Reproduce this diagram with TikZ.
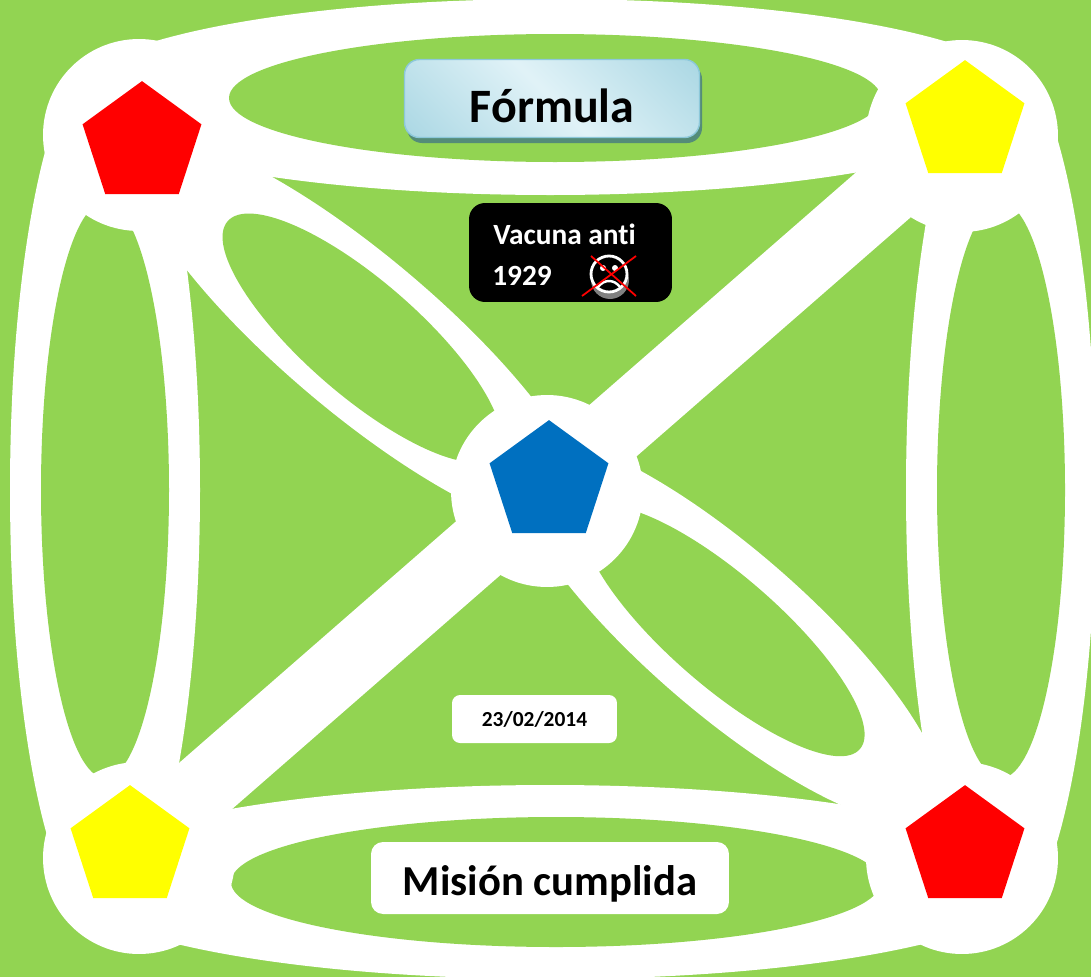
\documentclass[tikz,border=0pt]{standalone}
\usepackage{fontspec}
\setmainfont[RawFeature={-liga}]{Carlito}
\usepackage{tikz}
\usetikzlibrary{shapes.geometric}
\definecolor{fondo}{RGB}{146,212,82}
\definecolor{azulcentro}{RGB}{0,112,192}
\definecolor{rojo}{RGB}{255,0,0}
\definecolor{amarillo}{RGB}{255,255,0}
\pgfdeclarehorizontalshading{formulashade}{100bp}{rgb(0bp)=(0.58,0.80,0.86);rgb(50bp)=(0.88,0.95,0.97);rgb(100bp)=(0.58,0.80,0.86)}
\tikzset{
    pentagono/.style={regular polygon, regular polygon sides=5, minimum size=2.5cm, inner sep=0pt},
    nudo/.style={circle, fill=white, minimum size=3.84cm, inner sep=0pt},
    caja/.style={rounded corners=0.24cm, fill=white, inner sep=0pt, text=black, font={\bfseries}}
}

\begin{document}
\begin{tikzpicture}[x=0.02cm, y=-0.02cm]
        \clip (0, 0) rectangle (1091, 977);
        \fill[fondo] (0, 0) rectangle (1091, 977);

        % anillos exteriores
        \fill[white] (550, 97) ellipse [x radius=480, y radius=98];
        \fill[white] (550, 882) ellipse [x radius=485, y radius=97];
        \fill[white] (105, 490) ellipse [x radius=95, y radius=436];
        \fill[white] (1001, 490) ellipse [x radius=95, y radius=436];
        \fill[white] (359.5, 334) ellipse [x radius=290, y radius=78, rotate=-40.2];
        \fill[white] (725, 630) ellipse [x radius=280, y radius=81, rotate=-41];

        % banda diagonal
        \coordinate (bandaA) at (140, 797);
        \coordinate (bandaB) at (890, 142.7);
        \coordinate (bandaC) at (950, 183);
        \coordinate (bandaD) at (200, 837);
        \fill[white] (bandaA) -- (bandaB) -- (bandaC) -- (bandaD) -- cycle;

        % anillos interiores
        \fill[fondo] (555, 98) ellipse [x radius=326, y radius=64];
        \fill[fondo] (556, 882) ellipse [x radius=325, y radius=65];
        \fill[fondo] (105, 490) ellipse [x radius=64, y radius=288];
        \fill[fondo] (1001, 490) ellipse [x radius=64, y radius=288];
        \fill[fondo] (362, 338) ellipse [x radius=178, y radius=57, rotate=-41];
        \fill[fondo] (724, 631) ellipse [x radius=180, y radius=55, rotate=-41];

        \node[nudo] (nudoA) at (139, 135) {};
        \node[nudo] (nudoB) at (962, 136) {};
        \node[nudo] (nudoC) at (139, 858) {};
        \node[nudo] (nudoD) at (962, 858) {};
        \node[nudo] (nudoE) at (547, 491) {};

        \node[pentagono, fill=rojo] (rojoA) at (142, 143.6) {};
        \node[pentagono, fill=amarillo] (amarilloA) at (965, 122.6) {};
        \node[pentagono, fill=amarillo] (amarilloB) at (130, 847.6) {};
        \node[pentagono, fill=rojo] (rojoB) at (965, 847.6) {};
        \node[pentagono, fill=azulcentro] (centro) at (549, 482.6) {};

        % caja de la formula
        \fill[rounded corners=0.3cm, fill={rgb,255:red,84;green,140;blue,120}] (407, 64) rectangle (702, 143);
        \node[rounded corners=0.3cm, draw={rgb,255:red,140;green,200;blue,218}, line width=0.8pt, shading=formulashade, shading angle=45, minimum width=5.9cm, minimum height=1.56cm, inner sep=0pt, text=black, text height=28pt, font={\fontsize{27.3}{32}\selectfont\bfseries}] (formula) at (552, 98.5) {Fórmula};

        \node[rounded corners=0.32cm, fill=black, minimum width=4.06cm, minimum height=1.98cm] (vacuna) at (570.5, 252.5) {};
        \node[anchor=base west, inner sep=0pt, text=white, font={\fontsize{16.7}{20}\selectfont\bfseries}] (vacunaA) at (493, 244) {Vacuna anti};
        \node[anchor=base west, inner sep=0pt, text=white, font={\fontsize{16.7}{20}\selectfont\bfseries}] (vacunaB) at (492, 285) {1929};

        % carita
        \node[circle, fill=gray, minimum size=0.76cm, inner sep=0pt] (sombra) at (610, 280) {};
        \node[circle, draw=white, fill=black, line width=1.6pt, minimum size=0.72cm, inner sep=0pt] (carita) at (609, 274) {};
        \fill[white] (603, 268) circle (3);
        \fill[white] (615, 268) circle (3);
        \draw[white, line width=1.4pt] (598, 287) .. controls (604, 279) and (614, 279) .. (620, 287);
        \coordinate (cruzA) at (582, 296);
        \coordinate (cruzB) at (636, 256);
        \coordinate (cruzC) at (591, 256);
        \coordinate (cruzD) at (636, 296);
        \draw[rojo, line width=1pt] (cruzA) -- (cruzB);
        \draw[rojo, line width=1pt] (cruzC) -- (cruzD);

        \node[caja, rounded corners=0.16cm, minimum width=3.3cm, minimum height=0.96cm, font={\fontsize{12.2}{15}\selectfont\bfseries}] (fecha) at (534.5, 719) {23/02/2014};
        \node[caja, minimum width=7.16cm, minimum height=1.44cm, text height=24pt, font={\fontsize{24.3}{29}\selectfont\bfseries}] (mision) at (550, 878) {Misión cumplida};
    \end{tikzpicture}
\end{document}
